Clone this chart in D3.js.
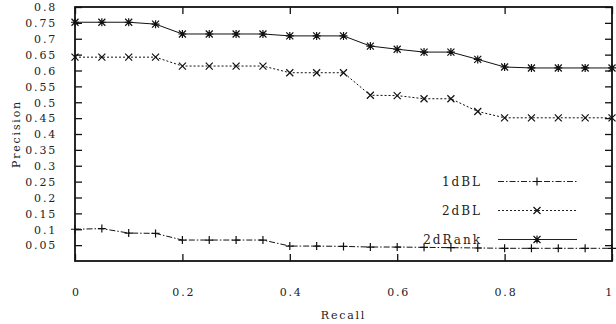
<!DOCTYPE html>
<html>
<head>
<meta charset="utf-8">
<script src="https://cdn.jsdelivr.net/npm/d3@7"></script>
<style>
  body { margin: 0; background: #fff; }
  text { font-family: "DejaVu Serif", serif; font-size: 11px; letter-spacing: 1.8px; fill: #222; }
  .leg { font-size: 12px; letter-spacing: 2px; }
</style>
</head>
<body>
<svg width="616" height="324"></svg>
<script>
// valores
const recall = [0, 0.05, 0.1, 0.15, 0.2, 0.25, 0.3, 0.35, 0.4, 0.45, 0.5,
                0.55, 0.6, 0.65, 0.7, 0.75, 0.8, 0.85, 0.9, 0.95, 1];
const bl1d   = [0.1, 0.102, 0.088, 0.087, 0.066, 0.066, 0.066, 0.066, 0.047, 0.047, 0.046,
                0.044, 0.044, 0.043, 0.042, 0.041, 0.04, 0.04, 0.04, 0.04, 0.04];
const bl2d   = [0.642, 0.642, 0.642, 0.642, 0.614, 0.614, 0.614, 0.614, 0.593, 0.593, 0.593,
                0.522, 0.521, 0.511, 0.511, 0.471, 0.451, 0.451, 0.451, 0.451, 0.451];
const rank2d = [0.752, 0.752, 0.752, 0.746, 0.715, 0.715, 0.715, 0.715, 0.709, 0.709, 0.709,
                0.677, 0.667, 0.658, 0.658, 0.635, 0.611, 0.608, 0.608, 0.608, 0.608];
const xTicks = [0, 0.2, 0.4, 0.6, 0.8, 1];
const yTicks = [0.05, 0.1, 0.15, 0.2, 0.25, 0.3, 0.35, 0.4, 0.45, 0.5, 0.55, 0.6, 0.65, 0.7, 0.75, 0.8];
const seriesNames = ["1dBL", "2dBL", "2dRank"];

const svg = d3.select("svg");
const mLeft = 75, mRight = 612, mTop = 7, mBottom = 261;

const x = d3.scaleLinear().domain([0, 1]).range([mLeft, mRight]);
const y = d3.scaleLinear().domain([0, 0.8]).range([mBottom, mTop]);

const fmt = d => String(+d.toFixed(2));

// ejes
const gl = svg.append("g").attr("transform", `translate(${mLeft},0)`)
  .call(d3.axisLeft(y).tickValues(yTicks).tickSize(-7).tickSizeOuter(0).tickPadding(18).tickFormat(fmt));
const gr = svg.append("g").attr("transform", `translate(${mRight},0)`)
  .call(d3.axisRight(y).tickValues(yTicks).tickSize(-7).tickSizeOuter(0).tickFormat(""));
const gb = svg.append("g").attr("transform", `translate(0,${mBottom})`)
  .call(d3.axisBottom(x).tickValues(xTicks).tickSize(-7).tickSizeOuter(0).tickFormat(fmt));
const gt = svg.append("g").attr("transform", `translate(0,${mTop})`)
  .call(d3.axisTop(x).tickValues(xTicks).tickSize(-7).tickSizeOuter(0).tickFormat(""));

[gl, gr, gb, gt].forEach(g => {
  g.select(".domain").remove();
  g.selectAll("line").attr("stroke", "#111").attr("stroke-width", 1.3);
  g.selectAll("text").attr("font-family", null).attr("font-size", null).attr("fill", "#222");
});
gl.selectAll("text").attr("dy", "0.35em");
gb.selectAll("text").attr("y", 35).attr("dy", 0).attr("dx", d => d === 1 ? "-0.25em" : "0.08em");

svg.append("rect")
  .attr("x", mLeft).attr("y", mTop)
  .attr("width", mRight - mLeft).attr("height", mBottom - mTop)
  .attr("fill", "none").attr("stroke", "#111").attr("stroke-width", 1.8);

svg.append("text").attr("x", (mLeft + mRight) / 2).attr("y", 319)
  .attr("text-anchor", "middle").text("Recall");
svg.append("text")
  .attr("transform", `translate(20,${(mTop + mBottom) / 2}) rotate(-90)`)
  .attr("text-anchor", "middle").text("Precision");

// marcadores
const plus = "M-4,0H4M0,-4V4";
const cross = "M-3.5,-3.5L3.5,3.5M-3.5,3.5L3.5,-3.5";
const star = plus + cross;

const series = [
  { name: seriesNames[0], vals: bl1d, dash: "6,2,1.5,2", mark: plus },
  { name: seriesNames[1], vals: bl2d, dash: "2,2", mark: cross },
  { name: seriesNames[2], vals: rank2d, dash: null, mark: star }
];

const line = d3.line().x(d => x(d[0])).y(d => y(d[1]));

series.forEach(s => {
  const pts = recall.map((r, i) => [r, s.vals[i]]);
  svg.append("path").datum(pts).attr("d", line)
    .attr("fill", "none").attr("stroke", "#111").attr("stroke-width", 1)
    .attr("stroke-dasharray", s.dash);
  svg.append("g").selectAll("path").data(pts).join("path")
    .attr("transform", d => `translate(${x(d[0])},${y(d[1])})`)
    .attr("d", s.mark).attr("fill", "none").attr("stroke", "#111").attr("stroke-width", 1.2);
});

// leyenda
const legY = [181.5, 210.5, 239.5];
series.forEach((s, i) => {
  svg.append("text").attr("class", "leg").attr("x", 482).attr("y", legY[i] + 4)
    .attr("text-anchor", "end").text(s.name);
  svg.append("line").attr("x1", 498).attr("x2", 577).attr("y1", legY[i]).attr("y2", legY[i])
    .attr("stroke", "#222").attr("stroke-width", 1).attr("stroke-dasharray", s.dash);
  svg.append("path").attr("transform", `translate(537,${legY[i]})`)
    .attr("d", s.mark).attr("fill", "none").attr("stroke", "#111").attr("stroke-width", 1.2);
});
</script>
</body>
</html>
